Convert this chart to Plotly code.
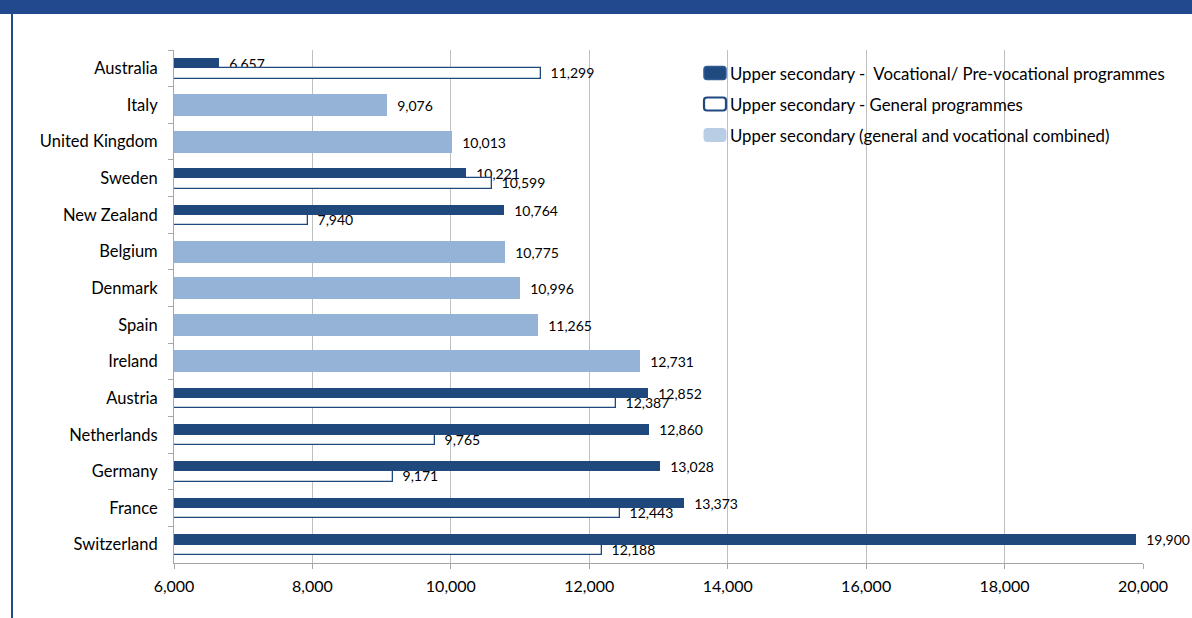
import plotly.graph_objects as go

countries = ["Australia", "Italy", "United Kingdom", "Sweden", "New Zealand", "Belgium",
             "Denmark", "Spain", "Ireland", "Austria", "Netherlands", "Germany", "France", "Switzerland"]
vocational = [6657, None, None, 10221, 10764, None, None, None, None, 12852, 12860, 13028, 13373, 19900]
general = [11299, None, None, 10599, 7940, None, None, None, None, 12387, 9765, 9171, 12443, 12188]
combined = [None, 9076, 10013, None, None, 10775, 10996, 11265, 12731, None, None, None, None, None]
x_ticks = [6000, 8000, 10000, 12000, 14000, 16000, 18000, 20000]
series_names = ["Upper secondary -  Vocational/ Pre-vocational programmes",
                "Upper secondary - General programmes",
                "Upper secondary (general and vocational combined)"]

W, H = 1192, 618
L, R, T, B = 174, 49, 50, 55
PW, PH = W - L - R, H - T - B

DARK = "#1F497D"
LIGHT = "#95B3D7"
FONT = "Lato"
LABEL_SIZE = 14


def lab(vals):
    return ["  " + format(v, ",") if v is not None else "" for v in vals]


fig = go.Figure()
fig.add_trace(go.Bar(
    y=countries, x=vocational, orientation="h", name=series_names[0],
    marker=dict(color=DARK, line=dict(width=0)), width=0.28, offset=-0.28,
    text=lab(vocational), textposition="outside", constraintext="none", cliponaxis=False,
    textfont=dict(size=LABEL_SIZE, color="#000"), showlegend=False))
fig.add_trace(go.Bar(
    y=countries, x=general, orientation="h", name=series_names[1],
    marker=dict(color="white", line=dict(width=1.3, color=DARK)), width=0.28, offset=0.0,
    text=lab(general), textposition="outside", constraintext="none", cliponaxis=False,
    textfont=dict(size=LABEL_SIZE, color="#000"), showlegend=False))
fig.add_trace(go.Bar(
    y=countries, x=combined, orientation="h", name=series_names[2],
    marker=dict(color=LIGHT, line=dict(width=0)), width=0.6, offset=-0.3,
    text=lab(combined), textposition="outside", constraintext="none", cliponaxis=False,
    textfont=dict(size=LABEL_SIZE, color="#000"), showlegend=False))


def px_x(p):
    return (p - L) / PW


def px_y(p):
    return (H - B - p) / PH


def rounded_rect(w, h, r):
    # pixel path centred on anchor
    x0, x1, y0, y1 = -w / 2, w / 2, -h / 2, h / 2
    return (f"M{x0 + r},{y0} L{x1 - r},{y0} Q{x1},{y0} {x1},{y0 + r} L{x1},{y1 - r} "
            f"Q{x1},{y1} {x1 - r},{y1} L{x0 + r},{y1} Q{x0},{y1} {x0},{y1 - r} "
            f"L{x0},{y0 + r} Q{x0},{y0} {x0 + r},{y0} Z")


shapes = [
    dict(type="rect", xref="paper", yref="paper", x0=px_x(0), x1=px_x(W), y0=px_y(14), y1=px_y(-2),
         fillcolor="#22498D", line=dict(width=0), layer="above"),
    dict(type="line", xref="paper", yref="paper", x0=px_x(12), x1=px_x(12), y0=px_y(H + 2), y1=px_y(14),
         line=dict(color="#22498D", width=2)),
]

legend_rows = [73, 104, 135]
legend_styles = [
    dict(fillcolor="#1F4A80", line=dict(color="#2F5A92", width=1.5)),
    dict(fillcolor="white", line=dict(color="#1F497D", width=2.2)),
    dict(fillcolor="#B9CDE5", line=dict(color="#B9CDE5", width=1)),
]
annotations = []
for name, row, st in zip(series_names, legend_rows, legend_styles):
    shapes.append(dict(type="path", xref="paper", yref="paper", xsizemode="pixel", ysizemode="pixel",
                       xanchor=px_x(715), yanchor=px_y(row), path=rounded_rect(22, 13, 3), **st))
    annotations.append(dict(text=name, xref="paper", yref="paper", x=px_x(728), y=px_y(row),
                            xanchor="left", yanchor="middle", showarrow=False,
                            font=dict(size=16.8, color="#000", family=FONT)))

fig.update_layout(
    width=W, height=H, margin=dict(l=L, r=R, t=T, b=B),
    paper_bgcolor="white", plot_bgcolor="white",
    barmode="overlay", bargap=0,
    font=dict(family=FONT, size=16, color="#000"),
    shapes=shapes, annotations=annotations,
    showlegend=False,
    xaxis=dict(range=[6000, 20000], tickvals=x_ticks, tickformat=",d",
               showgrid=True, gridcolor="#BFBFBF", gridwidth=1,
               showline=True, linecolor="#A6A6A6", ticks="outside", ticklen=5, tickcolor="#A6A6A6",
               tickfont=dict(size=16), zeroline=False, ticklabelstandoff=4),
    yaxis=dict(type="category", categoryorder="array", categoryarray=countries,
               autorange="reversed", range=[13.5, -0.5],
               showline=True, linecolor="#A6A6A6", ticks="outside", ticklen=5, tickcolor="#A6A6A6",
               tickson="boundaries", showgrid=False, tickfont=dict(size=16.5), ticklabelstandoff=12),
)

fig.write_html("out.html")
